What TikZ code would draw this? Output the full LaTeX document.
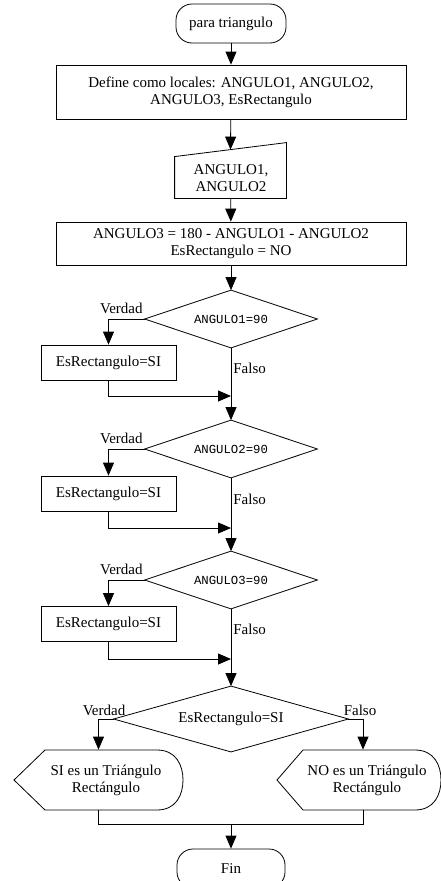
\documentclass[tikz,border=0pt]{standalone}
\usepackage{fontspec}
\setmainfont{Liberation Serif}
\setmonofont{Liberation Mono}
\usetikzlibrary{arrows.meta,calc}
\begin{document}
\begin{tikzpicture}[x=1pt,y=-1pt,
  line width=0.8pt,
  every node/.style={font=\fontsize{15}{17}\selectfont, inner sep=0pt, align=center},
  arr/.style={-{Triangle[length=13pt,width=11pt]}},
  boxn/.style={draw, rectangle},
  ghost/.style={rectangle, draw=none},
  term/.style={draw, rectangle, rounded corners=16pt, minimum width=110pt, minimum height=39pt},
  dtext/.style={font=\ttfamily\fontsize{12.3}{14}\selectfont},
  lbl/.style={font=\fontsize{15}{17}\selectfont}
]
\useasboundingbox (0,0) rectangle (440,881);

% start
\node[term] (start) at (231,23.5) {para triangulo};
% box 1
\node[boxn, minimum width=350pt, minimum height=54pt] (b1) at (231,92) {Define como locales: ANGULO1, ANGULO2,\\ANGULO3, EsRectangulo};
% input
\node[ghost, minimum width=111pt, minimum height=55pt] (inp) at (230.5,170.5) {};
\node at (231,178) {ANGULO1,\\ANGULO2};
\draw (inp.south west) -- ([yshift=-14pt]inp.north west) -- (inp.north east) -- (inp.south east) -- cycle;
% box 3
\node[boxn, minimum width=350pt, minimum height=43pt] (b3) at (231,243.5) {ANGULO3 = 180 - ANGULO1 - ANGULO2\\EsRectangulo = NO};

% decisions
\foreach \n/\yy/\t in {d1/319/ANGULO1=90, d2/449/ANGULO2=90, d3/580/ANGULO3=90}{
  \node[ghost, minimum width=172pt, minimum height=57pt, dtext] (\n) at (231,\yy) {\t};
  \draw (\n.north) -- (\n.east) -- (\n.south) -- (\n.west) -- cycle;
}
\node[boxn, minimum width=135pt, minimum height=35pt] (r1) at (108.5,362.5) {EsRectangulo=SI};
\node[boxn, minimum width=135pt, minimum height=35pt] (r2) at (108.5,493.5) {EsRectangulo=SI};
\node[boxn, minimum width=135pt, minimum height=35pt] (r3) at (108.5,624) {EsRectangulo=SI};

\coordinate (j1) at (231,396);
\coordinate (j2) at (231,528);
\coordinate (j3) at (231,659);

% final decision
\node[ghost, minimum width=234pt, minimum height=65pt] (d4) at (231,719) {EsRectangulo=SI};
\draw (d4.north) -- (d4.east) -- (d4.south) -- (d4.west) -- cycle;

% displays
\node[ghost, minimum width=169pt, minimum height=60pt] (s1) at (98.5,780) {};
\node at (106,780) {SI es un Triángulo\\Rectángulo};
\draw (45,750) -- (157,750) .. controls (176,750) and (183,765) .. (183,780)
      .. controls (183,795) and (176,810) .. (157,810) -- (45,810) -- (14,780) -- cycle;
\node[ghost, minimum width=154pt, minimum height=60pt] (s2) at (363,780) {};
\node at (367,780) {NO es un Triángulo\\Rectángulo};
\draw (303,750) -- (415,750) .. controls (434,750) and (441,765) .. (441,780)
      .. controls (441,795) and (434,810) .. (415,810) -- (303,810) -- (277,780) -- cycle;

% end
\node[term, minimum width=108pt] (fin) at (231,868.5) {Fin};

% connectors
\draw[arr] (start) -- (b1);
\draw[arr] (b1) -- ([yshift=-7pt]inp.north);
\draw[arr] (inp) -- (b3);
\draw[arr] (b3) -- (d1);
\draw[arr] (d1.west) -| (r1.north);
\draw[arr] (r1.south) |- (j1);
\draw[arr] (d1.south) -- (d2.north);
\draw[arr] (d2.west) -| (r2.north);
\draw[arr] (r2.south) |- (j2);
\draw[arr] (d2.south) -- (d3.north);
\draw[arr] (d3.west) -| (r3.north);
\draw[arr] (r3.south) |- (j3);
\draw[arr] (d3.south) -- (d4.north);
\draw[arr] (d4.west) -| (s1.north);
\draw[arr] (d4.east) -| (s2.north);
\coordinate (j4) at (231,824);
\draw (s1.south) |- (j4) -| (s2.south);
\draw[arr] (j4) -- (fin.north);

% labels
\node[lbl, anchor=south east] at (143,314) {Verdad};
\node[lbl, anchor=west] at (233,368) {Falso};
\node[lbl, anchor=south east] at (143,444) {Verdad};
\node[lbl, anchor=west] at (233,499) {Falso};
\node[lbl, anchor=south east] at (143,575) {Verdad};
\node[lbl, anchor=west] at (233,629) {Falso};
\node[lbl, anchor=south] at (104,716) {Verdad};
\node[lbl, anchor=south] at (360,716) {Falso};
\end{tikzpicture}
\end{document}
